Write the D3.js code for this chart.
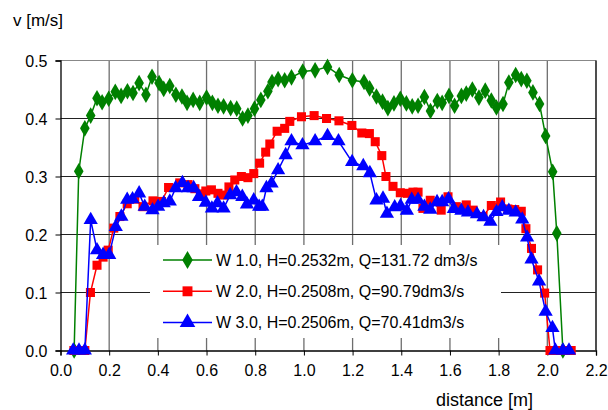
<!DOCTYPE html>
<html>
<head>
<meta charset="utf-8">
<script src="https://cdn.jsdelivr.net/npm/d3@7"></script>
<style>
  body { margin: 0; background: #fff; }
  text { font-family: "Liberation Sans", Arial, sans-serif; fill: #000; }
</style>
</head>
<body>
<div id="chart"></div>
<script>
// distance [m] / velocity [m/s]
var w1_x = [0.056,0.075,0.100,0.124,0.150,0.171,0.198,0.225,0.249,0.275,0.298,0.323,0.351,0.376,0.405,0.424,0.449,0.474,0.499,0.520,0.545,0.572,0.600,0.624,0.647,0.670,0.699,0.724,0.748,0.770,0.797,0.823,0.852,0.869,0.894,0.921,0.949,0.995,1.046,1.097,1.145,1.199,1.247,1.270,1.298,1.323,1.345,1.370,1.396,1.421,1.445,1.469,1.495,1.520,1.548,1.568,1.596,1.619,1.647,1.667,1.692,1.719,1.745,1.770,1.791,1.818,1.842,1.870,1.893,1.916,1.941,1.968,1.993,2.022,2.039,2.064];
var w1_v = [0,0.309,0.383,0.405,0.435,0.428,0.434,0.446,0.439,0.447,0.444,0.461,0.441,0.472,0.461,0.451,0.456,0.441,0.438,0.427,0.432,0.427,0.436,0.427,0.422,0.421,0.418,0.417,0.400,0.405,0.417,0.432,0.447,0.463,0.468,0.466,0.471,0.481,0.483,0.489,0.475,0.466,0.463,0.452,0.438,0.429,0.418,0.426,0.434,0.426,0.421,0.422,0.437,0.413,0.430,0.427,0.439,0.422,0.439,0.443,0.450,0.436,0.448,0.431,0.419,0.425,0.462,0.475,0.468,0.465,0.445,0.425,0.370,0.308,0.202,0];

var w2_x = [0.055,0.080,0.100,0.123,0.150,0.175,0.196,0.219,0.244,0.274,0.305,0.339,0.380,0.415,0.444,0.490,0.524,0.552,0.575,0.597,0.620,0.647,0.668,0.692,0.716,0.743,0.770,0.794,0.818,0.843,0.860,0.890,0.921,0.942,0.990,1.042,1.093,1.144,1.197,1.238,1.269,1.293,1.320,1.337,1.366,1.396,1.425,1.448,1.469,1.489,1.519,1.564,1.592,1.626,1.667,1.695,1.736,1.770,1.808,1.838,1.866,1.893,1.912,1.935,1.960,1.989,2.011,2.040,2.070,2.098];
var w2_v = [0,0,0,0.100,0.147,0.161,0.173,0.211,0.231,0.253,0.261,0.248,0.258,0.257,0.281,0.289,0.286,0.279,0.270,0.275,0.277,0.271,0.268,0.282,0.294,0.300,0.298,0.305,0.323,0.342,0.356,0.378,0.383,0.395,0.403,0.405,0.400,0.396,0.388,0.375,0.374,0.360,0.336,0.300,0.283,0.272,0.271,0.273,0.273,0.245,0.259,0.242,0.265,0.248,0.251,0.242,0.231,0.250,0.256,0.244,0.243,0.240,0.210,0.176,0.139,0.099,0,0,0,0];

var w3_x = [0.052,0.076,0.100,0.124,0.150,0.175,0.200,0.227,0.250,0.274,0.296,0.323,0.346,0.378,0.401,0.424,0.449,0.473,0.501,0.524,0.547,0.569,0.597,0.622,0.645,0.670,0.697,0.723,0.747,0.766,0.794,0.816,0.829,0.846,0.867,0.894,0.925,0.949,0.994,1.046,1.097,1.142,1.198,1.244,1.271,1.298,1.325,1.341,1.373,1.397,1.423,1.443,1.469,1.495,1.519,1.547,1.568,1.594,1.616,1.647,1.674,1.711,1.738,1.766,1.791,1.815,1.842,1.870,1.897,1.917,1.935,1.966,1.993,2.021,2.033,2.064,2.089];
var w3_v = [0,0,0,0.225,0.173,0.165,0.165,0.213,0.231,0.260,0.261,0.271,0.248,0.242,0.248,0.254,0.257,0.280,0.289,0.280,0.280,0.265,0.255,0.245,0.254,0.245,0.268,0.273,0.265,0.252,0.259,0.248,0.248,0.280,0.288,0.311,0.337,0.361,0.354,0.361,0.370,0.361,0.325,0.318,0.306,0.259,0.262,0.236,0.247,0.249,0.241,0.260,0.260,0.248,0.243,0.256,0.256,0.261,0.244,0.241,0.238,0.235,0.230,0.222,0.239,0.247,0.241,0.238,0.226,0.195,0.157,0.119,0.067,0.039,0,0,0];

var series_names = [
    "W 1.0, H=0.2532m, Q=131.72 dm3/s",
    "W 2.0, H=0.2508m, Q=90.79dm3/s",
    "W 3.0, H=0.2506m, Q=70.41dm3/s"
];
var series_colors = ["#008000", "#ff0000", "#0000ff"];
var series_symbols = [d3.symbolDiamond, d3.symbolSquare, d3.symbolTriangle];
var series_sizes = [80, 82, 88];

var x_ticks = [0, 0.2, 0.4, 0.6, 0.8, 1.0, 1.2, 1.4, 1.6, 1.8, 2.0, 2.2];
var y_ticks = [0, 0.1, 0.2, 0.3, 0.4, 0.5];

var width = 608, height = 410;
var margin = {top: 60.5, right: 12, bottom: 59.5, left: 60.5};

var svg = d3.select("#chart").append("svg")
    .attr("width", width)
    .attr("height", height);

var x = d3.scaleLinear().domain([0, 2.2]).range([margin.left, width - margin.right]);
var y = d3.scaleLinear().domain([0, 0.5]).range([height - margin.bottom, margin.top]);

// grid
svg.append("g")
    .selectAll("line")
    .data(x_ticks.slice(1))
    .enter().append("line")
        .attr("x1", d => x(d)).attr("x2", d => x(d))
        .attr("y1", y(0)).attr("y2", y(0.5))
        .attr("stroke", "#6e6e6e")
        .attr("stroke-width", 1.3);

svg.append("g")
    .selectAll("line")
    .data(y_ticks.slice(1))
    .enter().append("line")
        .attr("x1", x(0)).attr("x2", x(2.2))
        .attr("y1", d => y(d)).attr("y2", d => y(d))
        .attr("stroke", d => d == 0.5 ? "#888" : "#222")
        .attr("stroke-width", 1);

// legend background covers the grid
svg.append("rect")
    .attr("x", 150).attr("y", 245)
    .attr("width", 351).attr("height", 93)
    .attr("fill", "#fff");

// axes
var xAxis = d3.axisBottom(x).tickValues(x_ticks).tickFormat(d3.format(".1f")).tickSize(5).tickPadding(9);
var yAxis = d3.axisLeft(y).tickValues(y_ticks).tickFormat(d3.format(".1f")).tickSize(5).tickPadding(8);

var gx = svg.append("g").attr("transform", "translate(0," + y(0) + ")").call(xAxis);
var gy = svg.append("g").attr("transform", "translate(" + x(0) + ",0)").call(yAxis);
[gx, gy].forEach(g => {
    g.select(".domain").attr("stroke", "#000").attr("stroke-width", 1.3);
    g.selectAll(".tick line").attr("stroke", "#000");
    g.selectAll(".tick text").style("font-size", "16px").attr("fill", "#000");
});
gy.selectAll(".tick text").attr("dy", "0.35em");

// right border
svg.append("line")
    .attr("x1", x(2.2)).attr("x2", x(2.2))
    .attr("y1", y(0)).attr("y2", y(0.5))
    .attr("stroke", "#222").attr("stroke-width", 1.3);

svg.append("text")
    .attr("x", 13).attr("y", 26)
    .style("font-size", "17px")
    .text("v [m/s]");

svg.append("text")
    .attr("x", 533).attr("y", 406)
    .attr("text-anchor", "end")
    .style("font-size", "18px")
    .text("distance [m]");

// series
var all_x = [w1_x, w2_x, w3_x];
var all_v = [w1_v, w2_v, w3_v];
var valueline = d3.line().x(d => x(d[0])).y(d => y(d[1]));

all_x.forEach((xs, i) => {
    var data = xs.map((d, j) => [d, all_v[i][j]]);
    svg.append("path")
        .attr("d", valueline(data))
        .attr("fill", "none")
        .attr("stroke", series_colors[i])
        .attr("stroke-width", 1.5);
    svg.append("g")
        .selectAll("path")
        .data(data)
        .enter().append("path")
            .attr("transform", d => "translate(" + x(d[0]) + "," + y(d[1]) + ")")
            .attr("d", d3.symbol().type(series_symbols[i]).size(series_sizes[i]))
            .attr("fill", series_colors[i]);
});

// legend
var legend = svg.append("g").selectAll("g")
    .data(series_names)
    .enter().append("g")
        .attr("transform", (d, i) => "translate(163," + (260 + i * 31.3) + ")");

legend.append("line")
    .attr("x1", 0).attr("x2", 49)
    .attr("stroke", (d, i) => series_colors[i])
    .attr("stroke-width", 1.5);
legend.append("path")
    .attr("transform", "translate(24.5,0)")
    .attr("d", (d, i) => d3.symbol().type(series_symbols[i]).size(series_sizes[i] * 1.2)())
    .attr("fill", (d, i) => series_colors[i]);
legend.append("text")
    .attr("x", 53).attr("dy", "0.35em")
    .style("font-size", "16px")
    .text(d => d);
</script>
</body>
</html>
